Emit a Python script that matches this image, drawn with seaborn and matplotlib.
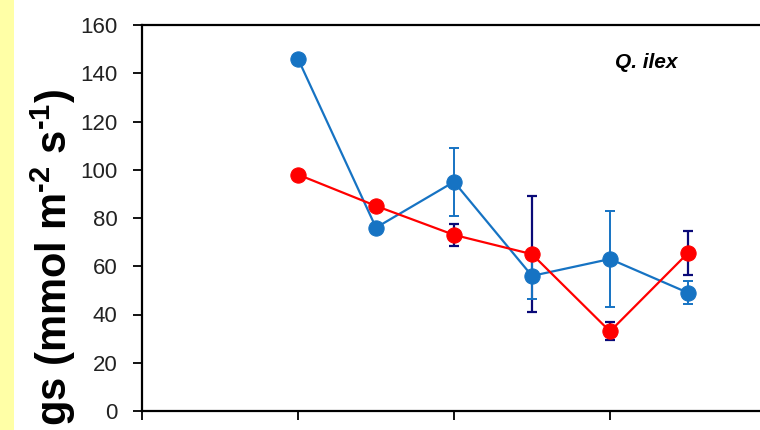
import matplotlib
matplotlib.use("Agg")
import matplotlib.pyplot as plt
import seaborn as sns
import pandas as pd
from matplotlib.patches import Rectangle

# ---- data ----
sample_pos = [1, 2, 3, 4, 5, 6]
blue_vals = [146, 76, 95, 56, 63, 49]
blue_err = [0, 0, 14, 9.5, 20, 4.8]
red_vals = [98, 85, 73, 65, 33, 65.5]
red_err = [0, 0, 4.5, 24, 3.7, 9]
y_ticks = [0, 20, 40, 60, 80, 100, 120, 140, 160]
x_ticks = [-1, 1, 3, 5, 7]
species_label = "Q. ilex"
y_label = "gs (mmol m$^{\\mathbf{\u20102}}$ s$^{\\mathbf{\u20101}}$)"

sns.set_style("ticks")
plt.rcParams["font.family"] = ["Liberation Sans", "DejaVu Sans"]
plt.rcParams["mathtext.fontset"] = "custom"
plt.rcParams["mathtext.rm"] = "Liberation Sans"
plt.rcParams["mathtext.bf"] = "Liberation Sans:bold"

BLUE = "#1673C3"
RED = "#FF0000"
NAVY = "#0A0A78"

W, H = 760, 430
fig = plt.figure(figsize=(W / 100, H / 100), dpi=100)
fig.patch.set_facecolor("white")

# yellow strip on the left
fig.patches.append(Rectangle((0, 0), 14 / W, 1, transform=fig.transFigure,
                             facecolor="#FFFFA6", edgecolor="none", zorder=0))

ax = fig.add_axes([142 / W, 19 / H, (800 - 142) / W, 386 / H])
ax.set_facecolor("white")

df_blue = pd.DataFrame({"pos": sample_pos, "gs": blue_vals})
df_red = pd.DataFrame({"pos": sample_pos, "gs": red_vals})

# error bars (only where non-zero)
bx = [p for p, e in zip(sample_pos, blue_err) if e > 0]
by = [v for v, e in zip(blue_vals, blue_err) if e > 0]
be = [e for e in blue_err if e > 0]
rx = [p for p, e in zip(sample_pos, red_err) if e > 0]
ry = [v for v, e in zip(red_vals, red_err) if e > 0]
re_ = [e for e in red_err if e > 0]
ax.errorbar(rx, ry, yerr=re_, fmt="none", ecolor=NAVY, elinewidth=1.6,
            capsize=3.5, capthick=1.6, zorder=1.5)
ax.errorbar(bx, by, yerr=be, fmt="none", ecolor=BLUE, elinewidth=1.4,
            capsize=3.5, capthick=1.4, zorder=1.6)

sns.lineplot(data=df_blue, x="pos", y="gs", color=BLUE, marker="o",
             markersize=11, markeredgecolor=BLUE, linewidth=1.6, ax=ax,
             zorder=3)
sns.lineplot(data=df_red, x="pos", y="gs", color=RED, marker="o",
             markersize=11, markeredgecolor=RED, linewidth=1.6, ax=ax,
             zorder=4)

ax.set_xlim(-1, -1 + (800 - 142) / 78)
ax.set_ylim(0, 160)
ax.set_yticks(y_ticks)
ax.set_yticklabels([str(t) for t in y_ticks], fontsize=16, color="#222222")
ax.set_xticks(x_ticks)
ax.set_xticklabels([""] * len(x_ticks))
ax.tick_params(axis="both", direction="out", length=6.5, width=1.3,
               color="black", pad=11)
ax.set_xlabel("")
ax.set_ylabel("")
for s in ["left", "bottom", "top", "right"]:
    ax.spines[s].set_visible(True)
    ax.spines[s].set_color("black")
    ax.spines[s].set_linewidth(1.6)

fig.text(53 / W, (H - 89) / H, y_label,
         rotation=90, ha="center", va="top", fontsize=30, fontweight="bold",
         color="black")

fig.text(615 / W, (H - 62) / H, species_label, ha="left", va="center",
         fontsize=15, fontweight="bold", fontstyle="italic", color="black")

fig.savefig("out.png", dpi=100)
